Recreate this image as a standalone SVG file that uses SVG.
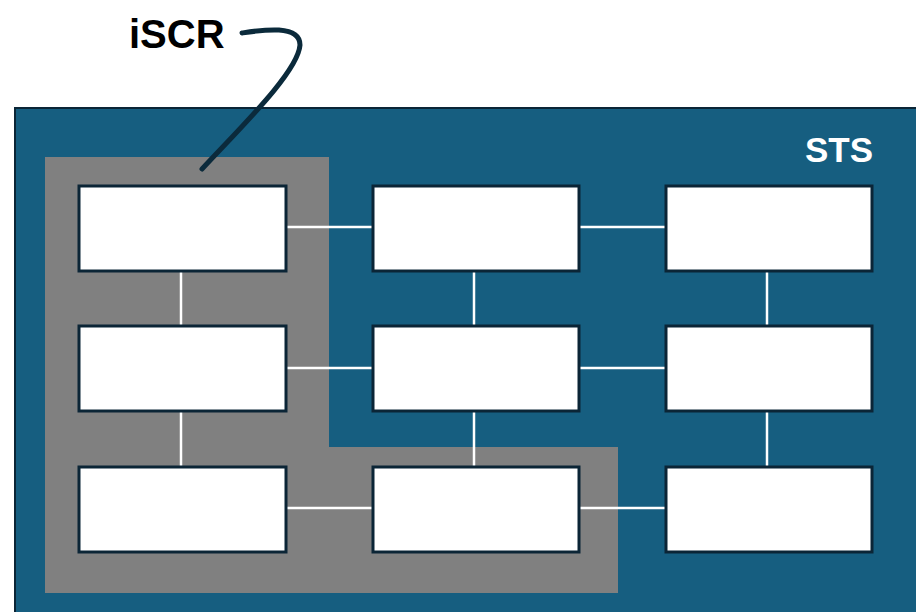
<svg xmlns="http://www.w3.org/2000/svg" width="916" height="612" viewBox="0 0 916 612">
<style>
.node{fill:#ffffff;stroke:#0b2536;stroke-width:3}
.conn{stroke:#ffffff;stroke-width:2.5;fill:none}
.lbl{font-family:"Liberation Sans",Arial,sans-serif;font-weight:bold}
</style>
<rect width="916" height="612" fill="#ffffff"/>
<g id="sts">
<rect x="15" y="108" width="910" height="520" fill="#165e80" stroke="#0b2536" stroke-width="2"/>
<text class="lbl" x="873" y="162" font-size="35" fill="#ffffff" text-anchor="end">STS</text>
</g>
<g id="iscr-region">
<polygon points="45,157 329,157 329,447 618,447 618,593 45,593" fill="#808080"/>
</g>
<g id="connectors">
<line class="conn" x1="286" y1="227" x2="373" y2="227"/>
<line class="conn" x1="579" y1="227" x2="666" y2="227"/>
<line class="conn" x1="286" y1="368" x2="373" y2="368"/>
<line class="conn" x1="579" y1="368" x2="666" y2="368"/>
<line class="conn" x1="286" y1="508" x2="373" y2="508"/>
<line class="conn" x1="579" y1="508" x2="666" y2="508"/>
<line class="conn" x1="181" y1="271" x2="181" y2="326"/>
<line class="conn" x1="181" y1="411" x2="181" y2="466"/>
<line class="conn" x1="474" y1="271" x2="474" y2="326"/>
<line class="conn" x1="474" y1="411" x2="474" y2="466"/>
<line class="conn" x1="767" y1="271" x2="767" y2="326"/>
<line class="conn" x1="767" y1="411" x2="767" y2="466"/>
</g>
<g id="n11"><rect class="node" x="79" y="186" width="207" height="85"/></g>
<g id="n12"><rect class="node" x="373" y="186" width="206" height="85"/></g>
<g id="n13"><rect class="node" x="666" y="186" width="206" height="85"/></g>
<g id="n21"><rect class="node" x="79" y="326" width="207" height="85"/></g>
<g id="n22"><rect class="node" x="373" y="326" width="206" height="85"/></g>
<g id="n23"><rect class="node" x="666" y="326" width="206" height="85"/></g>
<g id="n31"><rect class="node" x="79" y="467" width="207" height="85"/></g>
<g id="n32"><rect class="node" x="373" y="467" width="206" height="85"/></g>
<g id="n33"><rect class="node" x="666" y="467" width="206" height="85"/></g>
<g id="callout">
<text class="lbl" x="129" y="48" font-size="40" fill="#000000">iSCR</text>
<path d="M242,33 C262,30 300,24 300,45 C298,72 240,128 202,169" fill="none" stroke="#0b2a3b" stroke-width="5" stroke-linecap="round"/>
</g>
</svg>
